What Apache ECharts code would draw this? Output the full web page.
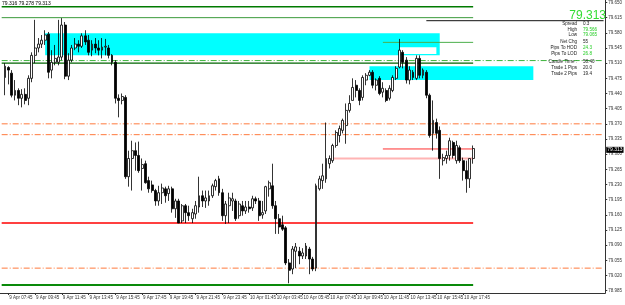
<!DOCTYPE html>
<html><head><meta charset="utf-8">
<script src="https://cdn.jsdelivr.net/npm/echarts@6/dist/echarts.min.js"></script>
<style>html,body{margin:0;padding:0;background:#fff}#c{width:625px;height:305px}</style>
</head><body><div id="c"></div>
<script>
// ---- data (M15 bars, 9 Apr 07:30 .. 10 Apr 18:30) ----
const opens = [79.477,79.500,79.487,79.436,79.447,79.429,79.438,79.429,79.475,79.528,79.545,79.554,79.563,79.577,79.494,79.512,79.512,79.524,79.598,79.480,
79.517,79.545,79.554,79.549,79.573,79.563,79.540,79.554,79.545,79.540,79.547,79.545,79.528,79.512,79.429,79.424,79.431,79.248,79.290,79.308,
79.297,79.267,79.278,79.239,79.229,79.216,79.192,79.211,79.220,79.209,79.220,79.174,79.192,79.146,79.181,79.165,79.151,79.162,79.178,79.204,
79.192,79.192,79.204,79.225,79.243,79.211,79.158,79.181,79.192,79.192,79.158,79.181,79.169,79.178,79.176,79.197,79.192,79.160,79.169,79.220,
79.227,79.181,79.151,79.137,79.130,79.049,79.035,79.076,79.076,79.065,79.065,79.081,79.058,79.037,79.220,79.239,79.243,79.278,79.285,79.320,
79.343,79.355,79.366,79.401,79.424,79.459,79.447,79.431,79.471,79.482,79.489,79.459,79.475,79.443,79.447,79.429,79.447,79.475,79.501,79.535,
79.517,79.471,79.489,79.475,79.521,79.482,79.489,79.436,79.348,79.373,79.355,79.285,79.290,79.297,79.327,79.285,79.315,79.285,79.262,79.243,79.290];
const closes = [79.503,79.494,79.436,79.447,79.429,79.438,79.424,79.475,79.528,79.545,79.554,79.563,79.575,79.489,79.512,79.521,79.524,79.598,79.480,79.517,
79.545,79.554,79.549,79.573,79.559,79.535,79.554,79.545,79.540,79.547,79.549,79.528,79.512,79.429,79.424,79.433,79.248,79.290,79.308,79.297,
79.262,79.276,79.234,79.220,79.216,79.192,79.211,79.222,79.204,79.220,79.174,79.192,79.141,79.181,79.165,79.158,79.165,79.181,79.204,79.192,
79.199,79.204,79.227,79.239,79.211,79.158,79.185,79.199,79.197,79.151,79.185,79.169,79.178,79.174,79.197,79.192,79.158,79.165,79.225,79.234,
79.181,79.151,79.132,79.127,79.049,79.032,79.081,79.086,79.065,79.072,79.088,79.058,79.035,79.227,79.243,79.250,79.290,79.290,79.320,79.350,
79.359,79.378,79.401,79.417,79.454,79.447,79.424,79.477,79.482,79.489,79.459,79.471,79.440,79.452,79.424,79.452,79.477,79.498,79.540,79.512,
79.471,79.494,79.477,79.521,79.482,79.494,79.436,79.343,79.378,79.348,79.290,79.292,79.297,79.331,79.297,79.320,79.285,79.262,79.243,79.290,79.313];
const lows = [79.436,79.461,79.431,79.424,79.413,79.408,79.415,79.413,79.466,79.510,79.535,79.545,79.552,79.475,79.475,79.505,79.505,79.517,79.473,79.471,
79.512,79.540,79.535,79.545,79.552,79.528,79.526,79.533,79.528,79.521,79.528,79.521,79.505,79.417,79.385,79.415,79.243,79.225,79.216,79.262,
79.257,79.216,79.232,79.211,79.211,79.181,79.181,79.185,79.188,79.192,79.165,79.153,79.141,79.141,79.141,79.146,79.141,79.151,79.165,79.178,
79.176,79.181,79.199,79.216,79.204,79.146,79.139,79.141,79.169,79.146,79.151,79.158,79.162,79.165,79.169,79.185,79.146,79.151,79.162,79.202,
79.174,79.116,79.116,79.123,79.044,79.002,79.023,79.037,79.046,79.058,79.058,79.023,79.030,79.030,79.216,79.220,79.234,79.267,79.280,79.315,
79.327,79.348,79.324,79.396,79.424,79.431,79.413,79.424,79.459,79.480,79.452,79.447,79.436,79.431,79.420,79.424,79.443,79.471,79.498,79.498,
79.463,79.461,79.471,79.471,79.475,79.475,79.429,79.338,79.308,79.336,79.243,79.274,79.278,79.285,79.290,79.278,79.280,79.239,79.211,79.222,79.278];
const highs = [79.510,79.503,79.494,79.471,79.452,79.450,79.452,79.482,79.535,79.610,79.568,79.575,79.586,79.582,79.540,79.552,79.610,79.614,79.605,79.533,
79.552,79.568,79.563,79.579,79.586,79.575,79.563,79.568,79.563,79.568,79.566,79.552,79.531,79.517,79.438,79.440,79.436,79.308,79.331,79.327,
79.329,79.290,79.285,79.248,79.239,79.220,79.227,79.232,79.225,79.227,79.225,79.197,79.197,79.185,79.185,79.181,79.174,79.192,79.248,79.216,
79.216,79.216,79.232,79.243,79.250,79.220,79.192,79.211,79.211,79.197,79.192,79.192,79.192,79.192,79.204,79.202,79.199,79.192,79.227,79.239,
79.278,79.192,79.162,79.158,79.134,79.058,79.088,79.095,79.086,79.083,79.095,79.086,79.063,79.232,79.250,79.278,79.373,79.297,79.324,79.355,
79.366,79.382,79.417,79.436,79.475,79.471,79.452,79.482,79.487,79.494,79.494,79.475,79.480,79.466,79.452,79.459,79.482,79.503,79.566,79.540,
79.524,79.503,79.494,79.528,79.528,79.498,79.494,79.440,79.424,79.382,79.364,79.301,79.308,79.338,79.331,79.331,79.320,79.292,79.285,79.290,79.320];

const xTickLabels = ['9 Apr 07:45','9 Apr 09:45','9 Apr 11:45','9 Apr 13:45','9 Apr 15:45','9 Apr 17:45','9 Apr 19:45','9 Apr 21:45','9 Apr 23:45',
'10 Apr 01:45','10 Apr 03:45','10 Apr 05:45','10 Apr 07:45','10 Apr 09:45','10 Apr 11:45','10 Apr 13:45','10 Apr 15:45','10 Apr 17:45'];
const yTickLabels = [78.985,79.020,79.055,79.090,79.125,79.160,79.195,79.230,79.265,79.300,79.335,79.370,79.405,79.440,79.475,79.510,79.545,79.580,79.615,79.650];
const headerText = '79.316 79.278 79.313';
const infoLabels = ['Spread','High','Low','Net Chg','Pips To HOD','Pips To LOD','Candle Time :','Trade 1 Pips','Trade 2 Pips'];
const infoValues = ['0.3','79.566','79.065','55','24.3','26.8','58:40','20.0','19.4'];
const infoGreen  = [false,true,true,false,true,true,false,false,false];
// zones [top, bottom] and horizontal levels (prices)
const supplyZone = [79.579, 79.528];
const demandZone = [79.503, 79.471];
const whiteBox   = [79.547, 79.531];
const topLevels  = [79.640, 79.615, 79.608];
const hodLevel   = 79.558;
const greenDashLevel = 79.516;
const darkGreenLevel = 79.510;
const orangeLevels = [79.370, 79.345, 79.037];
const redLevel = 79.141;
const trade1Level = 79.312;
const trade2Level = 79.290;
const bottomLevel = 78.998;

// ---- category axis: one slot per M15 bar, one leading slot, empty future slots ----
const NCAT = 181;
const categories = [];
for (let k = 0; k < NCAT; k++) {
  const m = 7 * 60 + 15 + 15 * k;
  const day = 9 + Math.floor(m / 1440);
  const mm = m % 1440;
  categories.push(day + ' Apr ' + String(Math.floor(mm / 60)).padStart(2, '0') + ':' + String(mm % 60).padStart(2, '0'));
}
const candleData = opens.map((o, i) => [i + 1, o, closes[i], lows[i], highs[i]]);
const lastIdx = opens.length; // category of last bar
const lastClose = closes[closes.length - 1];
const C = k => categories[k];
const FONT = 'Liberation Sans';
const dd = () => [6, 2, 1, 2];

// each horizontal object is its own line series (from bar k0 to bar k1)
function hseg(k0, k1, y, color, width, type, z) {
  return { type: 'line', data: [[C(k0), y], [C(k1), y]], symbol: 'none', silent: true, z: z || 3,
           lineStyle: { color: color, width: width, type: type || 'solid' }, emphasis: { disabled: true } };
}
const lineSeries = [
  hseg(0, lastIdx, topLevels[0], '#007a00', 1.5),
  hseg(0, lastIdx, topLevels[1], '#3a9a3a', 1),
  hseg(127, NCAT - 1, topLevels[2], '#111111', 1),
  hseg(114, lastIdx, hodLevel, '#4caf4c', 1),
  hseg(0, NCAT - 1, greenDashLevel, '#3cb43c', 1, dd()),
  hseg(0, lastIdx, darkGreenLevel, '#006400', 1.3),
  hseg(0, NCAT - 1, orangeLevels[0], '#ff7a3d', 1, dd()),
  hseg(0, NCAT - 1, orangeLevels[1], '#ff7a3d', 1, dd()),
  hseg(0, NCAT - 1, orangeLevels[2], '#ff7a3d', 1, dd()),
  hseg(0, lastIdx, redLevel, '#ff0000', 1.5),
  hseg(99, lastIdx, trade2Level, '#ffb4b4', 2),
  hseg(114, lastIdx, trade1Level, '#ff3030', 1),
  hseg(0, lastIdx, bottomLevel, '#0a8a0a', 2)
];

const markAreas = [
  [{ coord: [C(13), supplyZone[0]], itemStyle: { color: '#00ffff' } }, { coord: [C(131), supplyZone[1]] }],
  [{ coord: [C(110), demandZone[0]], itemStyle: { color: '#00ffff' } }, { coord: [C(159), demandZone[1]] }],
  [{ coord: [C(119), whiteBox[0]], itemStyle: { color: '#ffffff' } }, { coord: [C(130), whiteBox[1]] }]
];

const graphics = [
  { type: 'text', left: 2, top: 1, z: 100, style: { text: headerText, fontSize: 5, fontFamily: FONT, fill: '#000' } },
  { type: 'text', z: 100, x: 606, y: 16, style: { text: lastClose.toFixed(3), fontSize: 12, fontFamily: FONT,
      fill: '#33dd33', textAlign: 'right', textVerticalAlign: 'middle' } }
];
const rowY = [24, 29.5, 35, 42, 48, 54, 61.5, 67.5, 73.5];
infoLabels.forEach((t, i) => {
  graphics.push({ type: 'text', z: 100, x: 577, y: rowY[i], style: { text: t, fontSize: 4.6, fontFamily: FONT, fill: '#222', textAlign: 'right', textVerticalAlign: 'middle' } });
  graphics.push({ type: 'text', z: 100, x: 583, y: rowY[i], style: { text: infoValues[i], fontSize: 4.6, fontFamily: FONT, fill: infoGreen[i] ? '#1fcc1f' : '#222', textAlign: 'left', textVerticalAlign: 'middle' } });
});

const chart = echarts.init(document.getElementById('c'), null, { renderer: 'canvas' });
chart.setOption({
  animation: false,
  backgroundColor: '#ffffff',
  grid: { left: 0, right: 15, top: 0, bottom: 12 },
  xAxis: {
    type: 'category', data: categories, boundaryGap: true,
    axisLine: { show: true, lineStyle: { color: '#333', width: 1 } },
    axisTick: { show: true, alignWithLabel: true, length: 2, lineStyle: { color: '#333' },
      interval: (idx, v) => xTickLabels.indexOf(v) >= 0 },
    axisLabel: { show: true, fontSize: 4.5, fontFamily: FONT, color: '#333', align: 'left', margin: 2, padding: [0, 0, 0, 1],
      interval: (idx, v) => xTickLabels.indexOf(v) >= 0 },
    splitLine: { show: false }
  },
  yAxis: {
    type: 'value', position: 'right', min: 78.9796, max: 79.6555, scale: true,
    axisLine: { show: true, onZero: false, lineStyle: { color: '#333', width: 1 } },
    axisTick: { show: true, length: 2, lineStyle: { color: '#333' }, customValues: yTickLabels },
    axisLabel: { show: true, fontSize: 4.5, fontFamily: FONT, color: '#333', margin: 3, customValues: yTickLabels,
      formatter: v => v.toFixed(3) },
    splitLine: { show: false }
  },
  series: [{
    type: 'candlestick',
    data: candleData,
    encode: { x: 0, y: [1, 2, 3, 4] },
    barWidth: 2.4,
    z: 4,
    itemStyle: { color: '#ffffff', color0: '#000000', borderColor: '#000000', borderColor0: '#000000', borderWidth: 0.8 },
    markArea: { silent: true, z: 1, data: markAreas },
    markLine: { silent: true, symbol: ['none', 'none'], animation: false, z: 10,
      lineStyle: { color: 'rgba(0,0,0,0)', width: 1, type: 'solid' },
      label: { show: true, position: 'end', distance: 1, formatter: lastClose.toFixed(3),
               backgroundColor: '#000', color: '#fff', fontSize: 5, fontFamily: FONT, padding: [1, 1, 0, 1] },
      data: [{ yAxis: lastClose }] }
  }].concat(lineSeries),
  graphic: graphics
});
</script>
</body></html>
